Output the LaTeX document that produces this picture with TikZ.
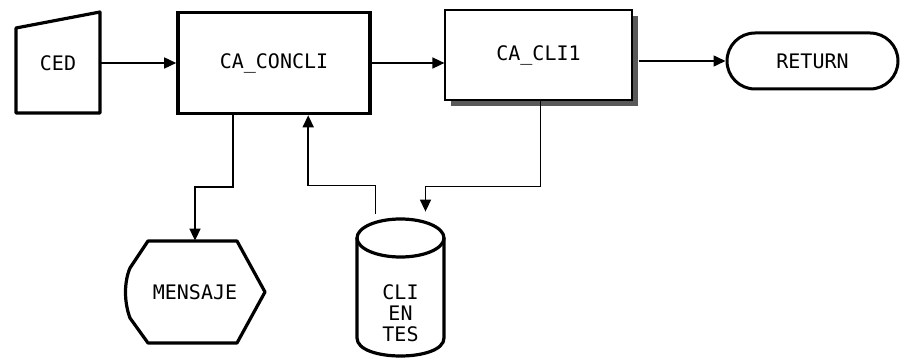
\documentclass[tikz,border=0pt]{standalone}
\usepackage{fontspec}
\setmonofont{DejaVu Sans Mono}
\usepackage{tikz}
\usetikzlibrary{positioning,arrows.meta,shapes.geometric,shapes.misc,calc,shadows}
\tikzset{
  lbl/.style={font=\fontsize{10}{10.5}\selectfont\ttfamily, align=center},
  procbox/.style={lbl, draw, line width=1.8pt, minimum width=96pt, minimum height=50.5pt, inner sep=0pt},
  subbox/.style={lbl, draw, line width=0.6pt, fill=white, minimum width=93.5pt, minimum height=45pt, inner sep=0pt,
    drop shadow={shadow xshift=3pt, shadow yshift=-3pt, fill=black!65, opacity=1}},
  termbox/.style={lbl, draw, line width=1.5pt, rounded rectangle, minimum width=85.5pt, minimum height=28pt, inner sep=0pt},
  shapeline/.style={line width=1.6pt, line join=round},
  arr/.style={-{Triangle[length=6pt,width=5.5pt]}, line width=0.8pt},
}
\begin{document}
\begin{tikzpicture}[x=0.5pt,y=-0.5pt]
    \useasboundingbox (0,0) rectangle (901,358);
    % manual input
    \node[lbl, minimum width=42pt, minimum height=50pt, inner sep=0pt] (ced) at (58,63) {CED};
    \draw[shapeline, shift={(ced.center)}] (-42,-35) -- (42,-51) -- (42,50) -- (-42,50) -- cycle;
    \node[procbox] (conc) at (274,63) {CA\_CONCLI};
    \node[subbox] (cli1) at (538.5,55) {CA\_CLI1};
    \node[termbox] (ret) at (812.5,61) {RETURN};
    % display
    \node[lbl, minimum width=70pt, minimum height=51pt, inner sep=0pt] (mensaje) at (195,292) {MENSAJE};
    \draw[shapeline, shift={(mensaje.center)}] (-47,-51) -- (42,-51) -- (70,0) -- (42,51) -- (-47,51)
      -- (-65,26) .. controls (-71,10) and (-71,-10) .. (-65,-24) -- cycle;
    % disk file
    \node[minimum width=43.5pt, minimum height=69pt, inner sep=0pt] (clientes) at (400.5,287) {};
    \draw[shapeline, shift={(clientes.center)}] (-43.5,-49) -- (-43.5,51)
      .. controls (-43.5,75) and (43.5,75) .. (43.5,51) -- (43.5,-49);
    \draw[shapeline, shift={(clientes.center)}] (0,-49) ellipse [x radius=43.5, y radius=19];
    \node[lbl] (clitxt) at ($(clientes.center)+(0,26)$) {CLI\\EN\\TES};

    \draw[arr] (ced) -- (conc);
    \draw[arr] (conc.east) -- (conc.east -| cli1.west);
    \draw[arr] (ret.west -| cli1.east) ++(6,0) -- (ret.west);
    \draw[arr] ($(conc.south west)+(57,0)$) -- ++(0,72) -| (mensaje.north);
    \draw[arr] ($(clientes.north)+(-25,-4)$) -- ++(0,-28) -| ($(conc.south west)+(132,0)$);
    \draw[arr] ($(cli1.south west)+(96,0)$) -- ++(0,86) -| ($(clientes.north)+(25,-6)$);
  \end{tikzpicture}
\end{document}
